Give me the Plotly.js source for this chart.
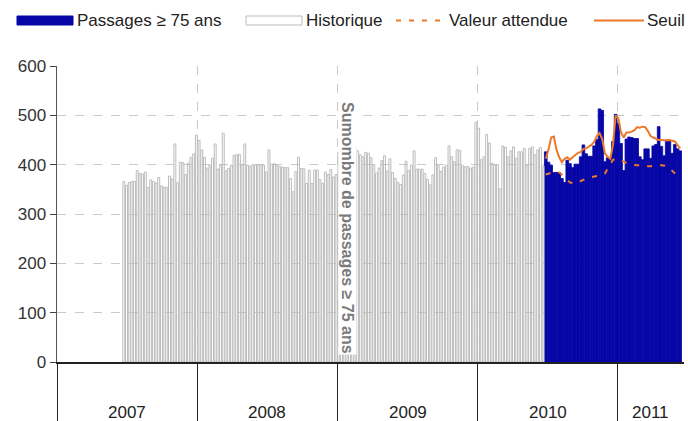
<!DOCTYPE html>
<html><head><meta charset="utf-8">
<script src="https://cdn.plot.ly/plotly-3.0.1.min.js"></script>
<style>html,body{margin:0;padding:0;background:#fff}#chart{width:688px;height:421px}</style>
</head><body><div id="chart"></div>
<script>
// ---- data ----
const histStart = '2007-06-24';       // first week of the historical series
const hist2007 = [366, 358, 364, 366, 366, 388, 382, 381, 385, 354, 369, 366, 363, 374, 357, 354, 354, 377, 371, 442, 363, 405, 404, 380, 403, 415, 422, 460];
const hist2008 = [449, 430, 415, 393, 398, 413, 442, 391, 399, 464, 388, 392, 399, 419, 420, 421, 399, 442, 399, 397, 400, 400, 400, 400, 399, 385, 430, 401, 402, 399, 396, 395, 394, 394, 372, 345, 386, 415, 392, 392, 362, 389, 362, 389, 389, 370, 362, 385, 380, 390, 375, 380];
const hist2009 = [425, 410, 430, 415, 420, 428, 438, 428, 420, 416, 425, 423, 414, 400, 383, 393, 408, 418, 387, 412, 384, 372, 364, 360, 379, 407, 388, 399, 428, 391, 391, 391, 382, 370, 359, 379, 414, 398, 386, 395, 399, 438, 416, 406, 430, 429, 398, 396, 396, 393, 395, 486];
const hist2010 = [474, 410, 416, 461, 444, 403, 400, 400, 351, 438, 435, 416, 428, 436, 413, 426, 426, 433, 398, 433, 436, 420, 430, 435, 397];

const currentStart = '2010-06-27';    // first week of the current series
const passages = [426, 405, 399, 384, 384, 384, 372, 364, 409, 402, 394, 401, 401, 416, 440, 422, 417, 417, 438, 451, 513, 510, 406, 414, 414, 447, 502, 483, 443, 388, 452, 456, 455, 453, 453, 416, 410, 432, 432, 413, 438, 441, 477, 437, 418, 450, 450, 423, 441, 432, 428];
const attendue = [380, 382, 384, 385, 385, 384, 380, 374, 368, 364, 362, 362, 364, 367, 370, 372, 374, 375, 376, 377, 378, 379, 382, 392, 403, 410, 412, 411, 409, 406, 403, 401, 400, 399, 399, 399, 398, 398, 397, 397, 398, 399, 399, 399, 398, 397, 393, 388, 382, 377, 372];
const seuil = [412, 430, 455, 457, 430, 415, 405, 412, 415, 410, 415, 420, 424, 426, 432, 433, 436, 440, 446, 458, 464, 452, 423, 416, 412, 440, 500, 494, 465, 455, 465, 465, 467, 470, 476, 475, 477, 476, 468, 458, 455, 453, 450, 450, 449, 449, 450, 449, 447, 440, 433];

const years = ['2007', '2008', '2009', '2010', '2011'];
const yearStarts = ['2007-01-01', '2008-01-01', '2009-01-01', '2010-01-01', '2011-01-01'];
const xEnd = '2011-06-22';

const seriesNames = ['Passages \u2265 75 ans', 'Historique', 'Valeur attendue', 'Seuil'];
const sideTitle = 'Sumombre de passages \u2265 75 ans';

// ---- helpers ----
const DAY = 864e5, WEEK = 7 * DAY;
function weeks(start, n) {
  const t0 = Date.parse(start + 'T00:00:00Z'), out = [];
  for (let i = 0; i < n; i++) out.push(new Date(t0 + i * WEEK).toISOString().slice(0, 10));
  return out;
}
function toStr(ms) { return new Date(ms).toISOString().replace('T', ' ').slice(0, 19); }

const W = 688, H = 421, M = {l: 57, r: 4, t: 66, b: 59};
const PW = W - M.l - M.r, PH = H - M.t - M.b;
const px = v => (v - M.l) / PW;          // pixel -> paper x
const py = v => (H - M.b - v) / PH;      // pixel -> paper y

const historique = hist2007.concat(hist2008, hist2009, hist2010);
const xHist = weeks(histStart, historique.length);
const xCur = weeks(currentStart, passages.length);

const blue = '#0606A6', orange = '#EC7A2A', histLine = '#bcbcbc';

const traces = [
  {type: 'bar', name: seriesNames[0], x: xCur, y: passages, width: WEEK,
   marker: {color: blue, line: {color: blue, width: 0.8}}, showlegend: false},
  {type: 'bar', name: seriesNames[1], x: xHist, y: historique, width: WEEK * 0.72,
   marker: {color: 'rgba(255,255,255,0)', line: {color: histLine, width: 1}}, showlegend: false},
  {type: 'scatter', mode: 'lines', name: seriesNames[2], x: xCur, y: attendue,
   line: {color: orange, width: 2, dash: '5px,8px'}, showlegend: false},
  {type: 'scatter', mode: 'lines', name: seriesNames[3], x: xCur, y: seuil,
   line: {color: orange, width: 2, shape: 'linear'}, showlegend: false}
];

// year labels centred in each (visible) year span
const endMs = Date.parse(xEnd + 'T00:00:00Z');
const yearAnn = years.map((yr, i) => {
  const a = Date.parse(yearStarts[i] + 'T00:00:00Z');
  const b = i + 1 < yearStarts.length ? Date.parse(yearStarts[i + 1] + 'T00:00:00Z') : endMs;
  return {text: yr, xref: 'x', yref: 'paper', x: toStr((a + b) / 2), y: -0.169,
          xanchor: 'center', yanchor: 'middle', showarrow: false,
          font: {size: 17, color: '#222'}};
});

// legend drawn at the top, Excel style (wide swatches)
const legY = 20.5;
const legItems = [
  {kind: 'rect', x0: 17, x1: 73, fill: blue, line: blue, tx: 75},
  {kind: 'rect', x0: 246, x1: 302, fill: '#ffffff', line: histLine, tx: 304},
  {kind: 'dash', x0: 396, x1: 446, tx: 447},
  {kind: 'line', x0: 594, x1: 644, tx: 645}
];
const legShapes = [], legText = [];
legItems.forEach((it, i) => {
  if (it.kind === 'rect') {
    legShapes.push({type: 'rect', xref: 'paper', yref: 'paper', x0: px(it.x0), x1: px(it.x1),
                    y0: py(legY + 4.5), y1: py(legY - 4.5), fillcolor: it.fill,
                    line: {color: it.line, width: 1}});
  } else {
    legShapes.push({type: 'line', xref: 'paper', yref: 'paper', x0: px(it.x0), x1: px(it.x1),
                    y0: py(legY), y1: py(legY),
                    line: {color: orange, width: 2, dash: it.kind === 'dash' ? '5px,8px' : 'solid'}});
  }
  legText.push({text: seriesNames[i], xref: 'paper', yref: 'paper', x: px(it.tx), y: py(legY),
                xanchor: 'left', yanchor: 'middle', showarrow: false,
                font: {size: 17, color: '#222'}});
});

const annotations = yearAnn.concat(legText, [{
  text: sideTitle, textangle: 90, xref: 'paper', yref: 'paper', x: px(348), y: py(228),
  xanchor: 'center', yanchor: 'middle', showarrow: false, bgcolor: '#ffffff', borderpad: 0,
  font: {size: 16, color: '#7a7a7a', weight: 'bold'}
}]);

const layout = {
  width: W, height: H,
  margin: M,
  paper_bgcolor: '#ffffff', plot_bgcolor: '#ffffff',
  font: {family: '"Liberation Sans", Arial, sans-serif', size: 17, color: '#222'},
  barmode: 'overlay',
  showlegend: false,
  xaxis: {type: 'date', range: [yearStarts[0], xEnd], tickmode: 'array', tickvals: yearStarts,
          ticktext: yearStarts.map(() => ''), ticks: 'outside', ticklen: 60, tickwidth: 1,
          tickcolor: '#222', showline: true, linecolor: '#222', linewidth: 2,
          showgrid: true, gridcolor: '#c9c9c9', griddash: 'dash', gridwidth: 1,
          zeroline: false, fixedrange: true},
  yaxis: {range: [0, 600], tickmode: 'linear', tick0: 0, dtick: 100, ticks: 'outside',
          ticklen: 6, tickcolor: '#444', showline: true, linecolor: '#555', linewidth: 1.5,
          showgrid: true, gridcolor: '#c9c9c9', griddash: 'dash', zeroline: false,
          tickfont: {size: 17, color: '#333'}, fixedrange: true},
  shapes: legShapes,
  annotations: annotations
};

Plotly.newPlot('chart', traces, layout, {displayModeBar: false, staticPlot: true});
</script>
</body></html>
